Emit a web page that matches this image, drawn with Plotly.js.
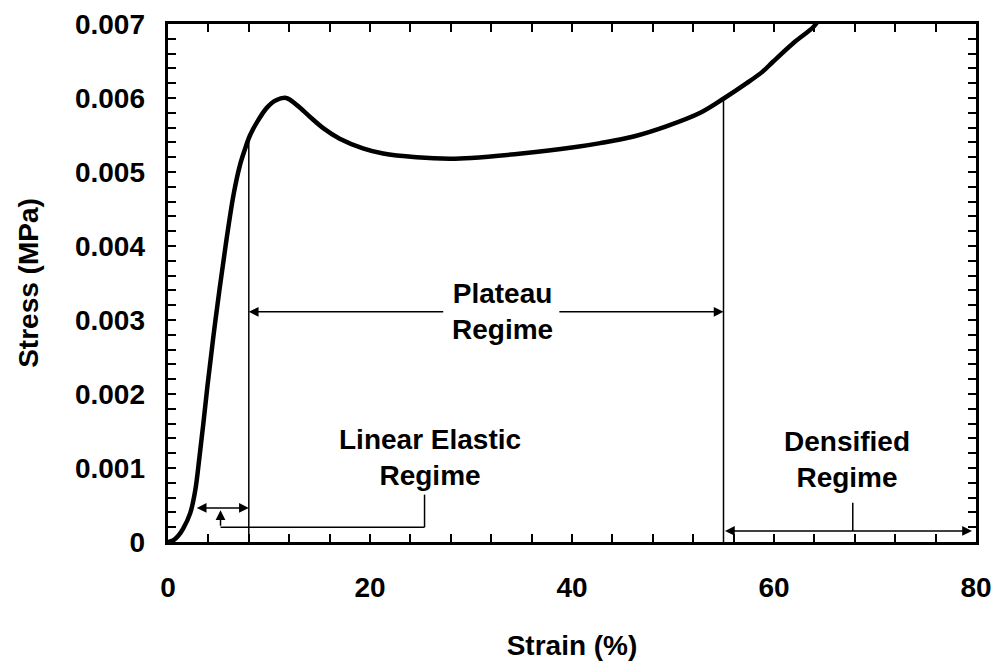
<!DOCTYPE html>
<html>
<head>
<meta charset="utf-8">
<script src="https://cdn.plot.ly/plotly-3.0.1.min.js"></script>
<style>html,body{margin:0;padding:0;background:#fff;}</style>
</head>
<body>
<div id="chart" style="width:995px;height:668px;"></div>
<script>
// Stress-strain curve
const strain = [0, 0.5, 1.0, 1.5, 2.2, 2.7, 3.1, 3.5, 3.9, 4.7, 5.7, 6.5, 7.1, 7.6, 8.1, 8.8, 9.8, 10.7, 11.7, 12.7, 14.1, 15.4, 17.0, 19.3, 21.3, 24.6, 27.9, 30, 35, 40, 42.8, 46.1, 49.4, 52.7, 55.1, 57.3, 58.9, 59.9, 61.9, 63.9, 64.4];
const stress = [0, 0.00002, 0.00008, 0.00018, 0.00039, 0.0007, 0.00113, 0.0016, 0.0021, 0.003, 0.004, 0.0047, 0.00508, 0.0053, 0.00549, 0.00567, 0.00587, 0.00597, 0.006, 0.00591, 0.00574, 0.00559, 0.00545, 0.00532, 0.00525, 0.0052, 0.00518, 0.00519, 0.00525, 0.00533, 0.00539, 0.00548, 0.00562, 0.0058, 0.006, 0.0062, 0.00636, 0.00649, 0.00674, 0.00696, 0.00705];

// Tick marks (every 4 % strain, every 0.0002 MPa) and labelled ticks
const xTickVals = [0, 4, 8, 12, 16, 20, 24, 28, 32, 36, 40, 44, 48, 52, 56, 60, 64, 68, 72, 76, 80];
const yTickVals = [0, 0.0002, 0.0004, 0.0006, 0.0008, 0.001, 0.0012, 0.0014, 0.0016, 0.0018, 0.002, 0.0022, 0.0024, 0.0026, 0.0028, 0.003, 0.0032, 0.0034, 0.0036, 0.0038, 0.004, 0.0042, 0.0044, 0.0046, 0.0048, 0.005, 0.0052, 0.0054, 0.0056, 0.0058, 0.006, 0.0062, 0.0064, 0.0066, 0.0068, 0.007];
const xLabelVals = [0, 20, 40, 60, 80];
const xLabelText = ['0', '20', '40', '60', '80'];
const yLabelVals = [0, 0.001, 0.002, 0.003, 0.004, 0.005, 0.006, 0.007];
const yLabelText = ['0', '0.001', '0.002', '0.003', '0.004', '0.005', '0.006', '0.007'];

const regimeLabels = ['Plateau<br>Regime', 'Linear Elastic<br>Regime', 'Densified<br>Regime'];
const elasticEnd = 8;      // strain at end of linear elastic regime
const plateauEnd = 55;     // strain at end of plateau regime

const FONT = '"Liberation Sans", Arial, sans-serif';
const X_RANGE = [0, 80];
const Y_RANGE = [0, 0.007];

const trace = {
  x: strain, y: stress, type: 'scatter', mode: 'lines',
  line: {color: '#000', width: 4.5, shape: 'spline', smoothing: 1},
  hoverinfo: 'skip'
};
// invisible copies that carry the labelled axes and the top/right tick axes
const labelTrace = {
  x: strain, y: stress, xaxis: 'x2', yaxis: 'y2', type: 'scatter', mode: 'lines',
  line: {width: 0, color: 'rgba(0,0,0,0)'}, hoverinfo: 'skip', showlegend: false
};
const mirrorTrace = {
  x: strain, y: stress, xaxis: 'x3', yaxis: 'y3', type: 'scatter', mode: 'lines',
  line: {width: 0, color: 'rgba(0,0,0,0)'}, hoverinfo: 'skip', showlegend: false
};

function arrow(x, y, ax, ay, side) {
  return {x: x, y: y, ax: ax, ay: ay, xref: 'x', yref: 'y', axref: 'x', ayref: 'y',
    text: '', showarrow: true, arrowhead: 2, arrowsize: 1.3, arrowwidth: 1.5,
    arrowcolor: '#000', arrowside: side || 'end', standoff: 0, startstandoff: 0};
}
function label(x, y, text) {
  return {x: x, y: y, xref: 'x', yref: 'y', text: text, showarrow: false,
    font: {family: FONT, size: 28, color: '#000', weight: 700}, align: 'center'};
}

const annotations = [
  label(33.1, 0.00311, regimeLabels[0]),
  label(25.9, 0.00114, regimeLabels[1]),
  label(67.2, 0.00112, regimeLabels[2]),
  arrow(elasticEnd, 0.00311, 27.4, 0.00311),
  arrow(plateauEnd, 0.00311, 38.6, 0.00311),
  arrow(elasticEnd, 0.00046, 2.7, 0.00046, 'end+start'),
  arrow(5.2, 0.00043, 5.2, 0.0002),
  arrow(79.6, 0.00015, plateauEnd, 0.00015, 'end+start')
];

const lineStyle = {color: '#000', width: 1.5};
const shapes = [
  {type: 'line', xref: 'x', yref: 'y', x0: elasticEnd, x1: elasticEnd, y0: 0, y1: 0.0055, line: lineStyle},
  {type: 'line', xref: 'x', yref: 'y', x0: plateauEnd, x1: plateauEnd, y0: 0, y1: 0.006, line: lineStyle},
  {type: 'line', xref: 'x', yref: 'y', x0: 5.2, x1: 25.4, y0: 0.0002, y1: 0.0002, line: lineStyle},
  {type: 'line', xref: 'x', yref: 'y', x0: 25.4, x1: 25.4, y0: 0.0002, y1: 0.00064, line: lineStyle},
  {type: 'line', xref: 'x', yref: 'y', x0: 67.8, x1: 67.8, y0: 0.00015, y1: 0.00053, line: lineStyle}
];

const tickFont = {family: FONT, size: 28, weight: 700, color: '#000'};
const titleFont = {family: FONT, size: 28, weight: 700, color: '#000'};
const tickStyle = {ticks: 'inside', ticklen: 8, tickwidth: 2, tickcolor: '#000'};

const layout = {
  width: 995, height: 668,
  margin: {l: 168, r: 19, t: 24, b: 126},
  paper_bgcolor: '#fff', plot_bgcolor: '#fff',
  showlegend: false,
  font: {family: FONT, color: '#000'},
  // frame + inside tick marks
  xaxis: Object.assign({
    range: X_RANGE, tickmode: 'array', tickvals: xTickVals, showticklabels: false,
    showgrid: false, zeroline: false, showline: true, linecolor: '#000', linewidth: 3,
    mirror: 'ticks'
  }, tickStyle),
  yaxis: Object.assign({
    range: Y_RANGE, tickmode: 'array', tickvals: yTickVals, showticklabels: false,
    showgrid: false, zeroline: false, showline: true, linecolor: '#000', linewidth: 3,
    mirror: 'ticks'
  }, tickStyle),
  // labelled axes
  xaxis2: {
    overlaying: 'x', side: 'bottom', anchor: 'y2', range: X_RANGE,
    tickmode: 'array', tickvals: xLabelVals, ticktext: xLabelText, ticks: '',
    showgrid: false, zeroline: false, showline: false,
    tickfont: tickFont, ticklabelstandoff: 26,
    title: {text: 'Strain (%)', font: titleFont, standoff: 33}
  },
  yaxis2: {
    overlaying: 'y', side: 'left', anchor: 'x2', range: Y_RANGE,
    tickmode: 'array', tickvals: yLabelVals, ticktext: yLabelText, ticks: '',
    showgrid: false, zeroline: false, showline: false,
    tickfont: tickFont, ticklabelstandoff: 22,
    title: {text: 'Stress (MPa)', font: titleFont, standoff: 28}
  },
  // top / right tick marks
  xaxis3: Object.assign({
    overlaying: 'x', side: 'top', anchor: 'y3', range: X_RANGE,
    tickmode: 'array', tickvals: xTickVals, showticklabels: false,
    showgrid: false, zeroline: false, showline: false
  }, tickStyle),
  yaxis3: Object.assign({
    overlaying: 'y', side: 'right', anchor: 'x3', range: Y_RANGE,
    tickmode: 'array', tickvals: yTickVals, showticklabels: false,
    showgrid: false, zeroline: false, showline: false
  }, tickStyle),
  annotations: annotations,
  shapes: shapes
};

Plotly.newPlot('chart', [trace, labelTrace, mirrorTrace], layout, {staticPlot: true, displayModeBar: false});
</script>
</body>
</html>
